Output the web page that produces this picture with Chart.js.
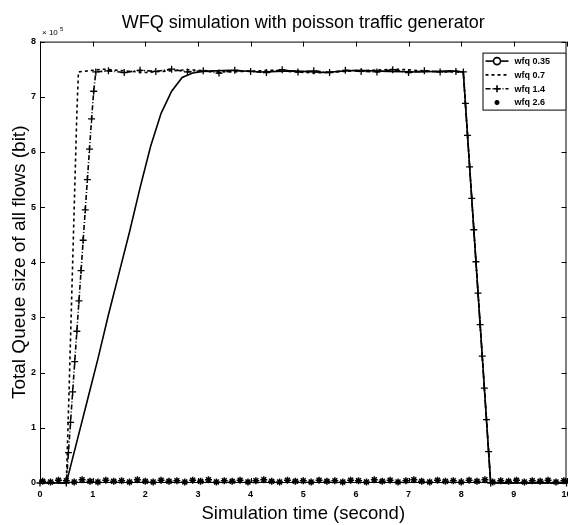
<!DOCTYPE html>
<html>
<head>
<meta charset="utf-8">
<script src="https://cdn.jsdelivr.net/npm/chart.js@4/dist/chart.umd.min.js"></script>
<style>
  body { margin: 0; background: #fff; }
  #wrap { width: 568px; height: 525px; overflow: hidden; }
</style>
</head>
<body>
<div id="wrap"><canvas id="queueChart" width="572" height="525"></canvas></div>
<script>
// values, queue size in units of 1e5 bit
const seriesLabels = ['wfq 0.35', 'wfq 0.7', 'wfq 1.4', 'wfq 2.6'];

const t035 = [0, 0.5, 0.7, 0.9, 1.1, 1.3, 1.5, 1.7, 1.9, 2.1, 2.3, 2.5, 2.7, 2.9, 3.1, 3.6, 4.2, 4.8, 5.4, 6.0, 6.6, 7.2, 7.8, 8.04, 8.3, 8.56, 10];
const q035 = [0, 0, 0.75, 1.5, 2.25, 3.05, 3.8, 4.55, 5.35, 6.1, 6.7, 7.1, 7.35, 7.43, 7.46, 7.48, 7.45, 7.47, 7.44, 7.48, 7.46, 7.45, 7.47, 7.45, 3.73, 0, 0];

const t07 = [0, 0.5, 0.55, 0.6, 0.65, 0.7, 0.73, 1.2, 2.0, 2.8, 3.6, 4.4, 5.2, 6.0, 6.8, 7.6, 8.04, 8.3, 8.56, 10];
const q07 = [0, 0, 1.6, 3.3, 5.0, 6.7, 7.45, 7.5, 7.44, 7.49, 7.45, 7.48, 7.43, 7.47, 7.5, 7.45, 7.45, 3.73, 0, 0];

const t14 = [0, 0.5, 0.54, 0.58, 0.62, 0.66, 0.7, 0.74, 0.78, 0.82, 0.86, 0.9, 0.94, 0.98, 1.02, 1.06,
  1.3, 1.6, 1.9, 2.2, 2.5, 2.8, 3.1, 3.4, 3.7, 4.0, 4.3, 4.6, 4.9, 5.2, 5.5, 5.8, 6.1, 6.4, 6.7, 7.0, 7.3, 7.6, 7.9,
  8.04, 8.08, 8.12, 8.16, 8.2, 8.24, 8.28, 8.32, 8.36, 8.4, 8.44, 8.48, 8.52, 8.56, 10];
const q14 = [0, 0, 0.55, 1.1, 1.65, 2.2, 2.75, 3.3, 3.85, 4.4, 4.95, 5.5, 6.05, 6.6, 7.1, 7.45,
  7.47, 7.44, 7.48, 7.46, 7.5, 7.45, 7.47, 7.43, 7.48, 7.46, 7.44, 7.49, 7.45, 7.47, 7.44, 7.48, 7.46, 7.45, 7.49, 7.44, 7.47, 7.45, 7.46,
  7.45, 6.88, 6.3, 5.73, 5.16, 4.59, 4.01, 3.44, 2.87, 2.3, 1.72, 1.15, 0.57, 0, 0];

const t26 = [0.05, 0.2, 0.35, 0.5, 0.65, 0.8, 0.95, 1.1, 1.25, 1.4, 1.55, 1.7, 1.85, 2.0, 2.15, 2.3, 2.45, 2.6, 2.75, 2.9,
  3.05, 3.2, 3.35, 3.5, 3.65, 3.8, 3.95, 4.1, 4.25, 4.4, 4.55, 4.7, 4.85, 5.0, 5.15, 5.3, 5.45, 5.6, 5.75, 5.9,
  6.05, 6.2, 6.35, 6.5, 6.65, 6.8, 6.95, 7.1, 7.25, 7.4, 7.55, 7.7, 7.85, 8.0, 8.15, 8.3, 8.45, 8.6, 8.75, 8.9,
  9.05, 9.2, 9.35, 9.5, 9.65, 9.8, 9.95];
const q26 = [0.03, 0.02, 0.05, 0.04, 0.02, 0.06, 0.03, 0.02, 0.05, 0.03, 0.04, 0.02, 0.06, 0.03, 0.02, 0.05, 0.03, 0.04, 0.02, 0.05,
  0.03, 0.06, 0.02, 0.04, 0.03, 0.05, 0.02, 0.04, 0.06, 0.03, 0.02, 0.05, 0.03, 0.04, 0.02, 0.05, 0.03, 0.04, 0.02, 0.05,
  0.04, 0.02, 0.06, 0.03, 0.05, 0.02, 0.04, 0.06, 0.03, 0.02, 0.05, 0.03, 0.04, 0.02, 0.05, 0.03, 0.06, 0.02, 0.04, 0.03,
  0.05, 0.02, 0.04, 0.03, 0.05, 0.02, 0.04];

const xTicks = [0, 1, 2, 3, 4, 5, 6, 7, 8, 9, 10];
const yTicks = [0, 1, 2, 3, 4, 5, 6, 7, 8];

function pts(ts, qs) {
  return ts.map((t, i) => ({ x: t, y: qs[i] }));
}

const FONT = "'Liberation Sans', Arial, sans-serif";

// matlab-ish box, inward ticks, exponent and legend
const matlabBox = {
  id: 'matlabBox',
  afterDatasetsDraw(chart) {
    const { ctx, chartArea: a, scales: { x, y } } = chart;
    ctx.save();
    ctx.strokeStyle = '#000';
    ctx.lineWidth = 1;
    ctx.setLineDash([]);
    ctx.strokeRect(a.left + 0.5, a.top + 0.5, a.width - 1, a.height - 1);
    ctx.beginPath();
    x.ticks.forEach(t => {
      const px = Math.round(x.getPixelForValue(t.value)) + 0.5;
      ctx.moveTo(px, a.bottom); ctx.lineTo(px, a.bottom - 5);
      ctx.moveTo(px, a.top); ctx.lineTo(px, a.top + 5);
    });
    y.ticks.forEach(t => {
      const py = Math.round(y.getPixelForValue(t.value)) + 0.5;
      ctx.moveTo(a.left, py); ctx.lineTo(a.left + 5, py);
      ctx.moveTo(a.right, py); ctx.lineTo(a.right - 5, py);
    });
    ctx.stroke();

    // exponent label
    ctx.fillStyle = '#000';
    ctx.textBaseline = 'alphabetic';
    ctx.textAlign = 'left';
    ctx.font = '8px ' + FONT;
    ctx.fillText('\u00d7 10', a.left + 2, a.top - 7);
    ctx.font = '6px ' + FONT;
    ctx.fillText('5', a.left + 20, a.top - 11);

    // legend box, tied to the top right corner of the axes
    const lw = 84, lh = 58;
    const lx = a.right - lw, ly = a.top + 11;
    ctx.fillStyle = '#fff';
    ctx.fillRect(lx, ly, lw, lh);
    ctx.strokeRect(lx + 0.5, ly + 0.5, lw - 1, lh - 1);
    chart.data.datasets.forEach((ds, i) => {
      const yy = ly + 8.5 + i * 13.8;
      ctx.strokeStyle = '#000';
      ctx.lineWidth = ds.borderWidth;
      if (ds.showLine !== false) {
        ctx.setLineDash(ds.borderDash || []);
        ctx.beginPath();
        ctx.moveTo(lx + 3, yy); ctx.lineTo(lx + 26, yy);
        ctx.stroke();
      }
      ctx.setLineDash([]);
      Chart.helpers.drawPoint(ctx, {
        pointStyle: ds.pointStyle, radius: ds.legendRadius, rotation: 0, borderWidth: 1
      }, lx + 14.5, yy);
      ctx.fillStyle = '#000';
      ctx.font = 'bold 9px ' + FONT;
      ctx.textBaseline = 'middle';
      ctx.fillText(ds.label, lx + 32, yy + 0.5);
    });
    ctx.restore();
  }
};

const common = { borderColor: '#000', backgroundColor: '#000', pointBorderColor: '#000',
  pointBackgroundColor: 'rgba(0,0,0,0)', borderWidth: 1.6, tension: 0, clip: 6 };

new Chart(document.getElementById('queueChart'), {
  type: 'line',
  data: {
    datasets: [
      Object.assign({}, common, { label: seriesLabels[0], data: pts(t035, q035),
        pointStyle: 'circle', pointRadius: 0, legendRadius: 3.5 }),
      Object.assign({}, common, { label: seriesLabels[1], data: pts(t07, q07),
        borderDash: [3, 3], pointStyle: 'circle', pointRadius: 0, legendRadius: 0 }),
      Object.assign({}, common, { label: seriesLabels[2], data: pts(t14, q14),
        borderDash: [5, 2, 1, 2], pointStyle: 'cross', pointRadius: 3.5, pointBorderWidth: 1.3, legendRadius: 3.5 }),
      Object.assign({}, common, { label: seriesLabels[3], data: pts(t26, q26),
        showLine: false, pointStyle: 'star', pointRadius: 3.5, pointBorderWidth: 1.5, legendRadius: 2.5 })
    ]
  },
  options: {
    responsive: false,
    animation: false,
    layout: { padding: { left: 0, right: 0, top: 0, bottom: 0 } },
    plugins: {
      legend: { display: false },
      tooltip: { enabled: false },
      title: {
        display: true,
        fullSize: false,
        text: 'WFQ simulation with poisson traffic generator',
        color: '#000',
        font: { family: FONT, size: 18, weight: 'normal' },
        padding: { top: 12, bottom: 8 }
      }
    },
    scales: {
      x: {
        type: 'linear', min: 0, max: 10,
        afterBuildTicks: s => { s.ticks = xTicks.map(v => ({ value: v })); },
        afterFit: s => { s.height = 42; s.paddingLeft = 0; s.paddingRight = 0; },
        grid: { display: false, drawTicks: false },
        border: { display: false },
        ticks: { color: '#000', padding: 6, font: { family: FONT, size: 9, weight: 'bold' } },
        title: { display: true, text: 'Simulation time (second)', color: '#000',
          font: { family: FONT, size: 18.5 }, padding: { top: 0, bottom: 0 } }
      },
      y: {
        type: 'linear', min: 0, max: 8,
        afterBuildTicks: s => { s.ticks = yTicks.map(v => ({ value: v })); },
        afterFit: s => { s.width = 40; s.paddingTop = 0; s.paddingBottom = 0; },
        grid: { display: false, drawTicks: false },
        border: { display: false },
        ticks: { color: '#000', padding: 4, font: { family: FONT, size: 9, weight: 'bold' } },
        title: { display: true, text: 'Total Queue size of all flows (bit)', color: '#000',
          font: { family: FONT, size: 19 }, padding: { top: 8, bottom: 0 } }
      }
    }
  },
  plugins: [matlabBox]
});
</script>
</body>
</html>
